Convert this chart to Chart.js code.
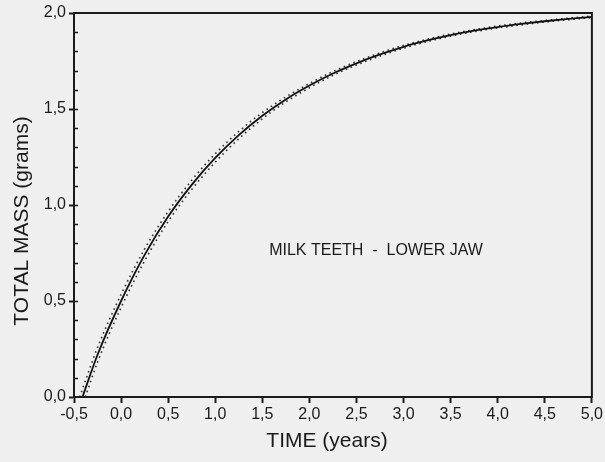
<!DOCTYPE html>
<html>
<head>
<meta charset="utf-8">
<script src="https://cdn.jsdelivr.net/npm/chart.js@4.4.1/dist/chart.umd.min.js"></script>
<style>
  html, body { margin: 0; padding: 0; background: #efefef; }
  canvas { display: block; }
</style>
</head>
<body>
<canvas id="massChart" width="605" height="462"></canvas>
<script>
// values (time in years, mass in grams)
const timeYears = [-0.25, 0, 0.25, 0.5, 0.75, 1.0, 1.25, 1.5, 1.75, 2.0, 2.25, 2.5,
                   2.75, 3.0, 3.25, 3.5, 3.75, 4.0, 4.25, 4.5, 4.75, 5.0];
const massFit   = [0.22, 0.50, 0.74, 0.94, 1.105, 1.245, 1.364, 1.465, 1.55, 1.622, 1.685, 1.738,
                   1.784, 1.824, 1.857, 1.885, 1.908, 1.927, 1.943, 1.957, 1.969, 1.98];
const massUpper = [0.258, 0.534, 0.771, 0.966, 1.129, 1.267, 1.383, 1.481, 1.563, 1.633, 1.695, 1.747,
                   1.792, 1.831, 1.863, 1.891, 1.913, 1.932, 1.948, 1.961, 1.973, 1.984];
const massLower = [0.182, 0.466, 0.709, 0.914, 1.081, 1.223, 1.345, 1.449, 1.537, 1.611, 1.675, 1.729,
                   1.776, 1.817, 1.851, 1.879, 1.903, 1.922, 1.938, 1.953, 1.965, 1.976];
// where each curve leaves the time axis (mass = 0)
const fitStart = -0.41;
const upperStart = -0.44;
const lowerStart = -0.38;

const xTickValues = [-0.5, 0, 0.5, 1.0, 1.5, 2.0, 2.5, 3.0, 3.5, 4.0, 4.5, 5.0];
const xTickLabels = ['-0,5', '0,0', '0,5', '1,0', '1,5', '2,0', '2,5', '3,0', '3,5', '4,0', '4,5', '5,0'];
const yTickValues = [0, 0.5, 1.0, 1.5, 2.0];
const yTickLabels = ['0,0', '0,5', '1,0', '1,5', '2,0'];
const yMinorStep = 0.1;

const chartTitle = 'MILK TEETH  -  LOWER JAW';
const xTitle = 'TIME (years)';
const yTitle = 'TOTAL MASS (grams)';

function toPoints(start, values) {
  return [{ x: start, y: 0 }].concat(timeYears.map((t, i) => ({ x: t, y: values[i] })));
}

const paperPlugin = {
  id: 'paper',
  beforeDraw(chart) {
    const c = chart.ctx;
    c.save();
    c.fillStyle = '#efefef';
    c.fillRect(0, 0, chart.width, chart.height);
    c.restore();
  },
  afterDraw(chart) {
    const c = chart.ctx;
    const a = chart.chartArea;
    const y = chart.scales.y;
    c.save();
    // frame
    c.strokeStyle = '#1a1a1a';
    c.lineWidth = 2;
    c.strokeRect(a.left, a.top, a.right - a.left, a.bottom - a.top);
    // minor ticks inside the left axis
    c.lineWidth = 1.5;
    for (let v = yMinorStep; v < 2.0 - 1e-9; v += yMinorStep) {
      const py = Math.round(y.getPixelForValue(v)) + 0.5;
      c.beginPath();
      c.moveTo(a.left, py);
      c.lineTo(a.left + 4, py);
      c.stroke();
    }
    // texts
    c.fillStyle = '#1a1a1a';
    c.textAlign = 'center';
    c.textBaseline = 'middle';
    c.font = '16px "Liberation Sans", Arial, sans-serif';
    c.fillText(chartTitle, 376, 251);
    c.font = '21px "Liberation Sans", Arial, sans-serif';
    c.fillText(xTitle, 327, 441);
    c.translate(22, 221);
    c.rotate(-Math.PI / 2);
    c.fillText(yTitle, 0, 0);
    c.restore();
  }
};

const tickFont = { family: '"Liberation Sans", Arial, sans-serif', size: 16 };

new Chart(document.getElementById('massChart').getContext('2d'), {
  type: 'line',
  data: {
    datasets: [
      {
        label: 'fit',
        data: toPoints(fitStart, massFit),
        borderColor: '#111',
        borderWidth: 1.8,
        pointRadius: 0,
        cubicInterpolationMode: 'monotone'
      },
      {
        label: 'upper',
        data: toPoints(upperStart, massUpper),
        borderColor: '#333',
        borderWidth: 1.6,
        borderDash: [1.6, 3.6],
        pointRadius: 0,
        cubicInterpolationMode: 'monotone'
      },
      {
        label: 'lower',
        data: toPoints(lowerStart, massLower),
        borderColor: '#333',
        borderWidth: 1.6,
        borderDash: [1.6, 3.6],
        pointRadius: 0,
        cubicInterpolationMode: 'monotone'
      }
    ]
  },
  options: {
    responsive: false,
    animation: false,
    layout: { padding: { left: 0, top: 13, right: 12, bottom: 0 } },
    plugins: {
      legend: { display: false },
      tooltip: { enabled: false }
    },
    scales: {
      x: {
        type: 'linear',
        min: -0.5,
        max: 5.0,
        afterBuildTicks: s => { s.ticks = xTickValues.map(v => ({ value: v })); },
        afterFit: s => { s.height = 65; },
        ticks: {
          color: '#1a1a1a',
          font: tickFont,
          padding: 2,
          maxRotation: 0,
          callback: v => xTickLabels[xTickValues.indexOf(v)]
        },
        grid: { drawOnChartArea: false, tickLength: 6, tickWidth: 2, tickColor: '#1a1a1a' },
        border: { color: '#1a1a1a', width: 2 }
      },
      y: {
        type: 'linear',
        min: 0,
        max: 2.0,
        afterBuildTicks: s => { s.ticks = yTickValues.map(v => ({ value: v })); },
        afterFit: s => { s.width = 74; },
        ticks: {
          color: '#1a1a1a',
          font: tickFont,
          padding: 3,
          callback: v => yTickLabels[yTickValues.indexOf(v)]
        },
        grid: { drawOnChartArea: false, tickLength: 5, tickWidth: 2, tickColor: '#1a1a1a' },
        border: { color: '#1a1a1a', width: 2 }
      }
    }
  },
  plugins: [paperPlugin]
});
</script>
</body>
</html>
